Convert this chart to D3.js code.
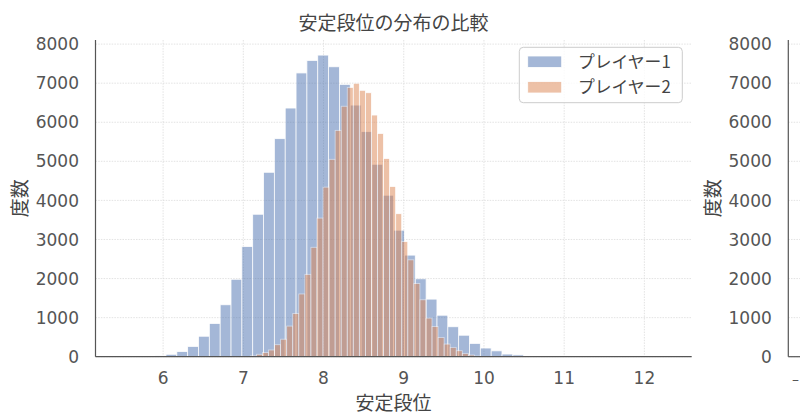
<!DOCTYPE html>
<html><head><meta charset="utf-8">
<script src="https://cdn.jsdelivr.net/npm/d3@7"></script>
<style>
body{margin:0;background:#fff;}
svg{display:block;font-family:"Noto Sans CJK JP","Noto Sans",sans-serif;}
.tick{font-family:"DejaVu Sans",sans-serif;}
</style></head>
<body>
<svg id="c" width="800" height="419"></svg>
<script>
// ---- data ----
const seriesNames = ["プレイヤー1", "プレイヤー2"];
const blueRange = [5.495, 12.252];
const blueCounts = [1, 2, 6, 20, 62, 132, 264, 524, 851, 1329,
  1982, 2820, 3646, 4720, 5580, 6364, 7262, 7583, 7719, 7420,
  6970, 6440, 5760, 4925, 4133, 3238, 2600, 1994, 1474, 1062,
  767, 550, 341, 222, 150, 68, 46, 17, 10, 5,
  3, 2, 1, 1, 1, 0, 0, 0, 0, 1];
const orangeRange = [6.861, 10.636];
const orangeCounts = [1, 2, 6, 22, 62, 105, 172, 307, 448, 784,
  1107, 1606, 2108, 2800, 3548, 4340, 5052, 5793, 6410, 6893,
  6998, 6818, 6756, 6185, 5715, 5074, 4358, 3660, 2948, 2479,
  1875, 1457, 989, 775, 494, 324, 239, 153, 85, 43,
  17, 8, 4, 2, 1, 1, 0, 0, 0, 1];
const xTicks = [6, 7, 8, 9, 10, 11, 12];
const yTicks = [0, 1000, 2000, 3000, 4000, 5000, 6000, 7000, 8000];
const titleText = "安定段位の分布の比較";
const xLabelText = "安定段位";
const yLabelText = "度数";

// ---- layout ----
const svg = d3.select("#c");
const L = 95.5, R = 691.7, T = 40, B = 356.7;
const colors = ["#4C72B0", "#DD8452"];
const span = blueRange[1] - blueRange[0];
const x = d3.scaleLinear().domain([blueRange[0] - 0.05 * span, blueRange[1] + 0.05 * span]).range([L, R]);
const yMax = d3.max(blueCounts.concat(orangeCounts)) * 1.05;
const y = d3.scaleLinear().domain([0, yMax]).range([B, T]);

function bins(range, counts) {
  const w = (range[1] - range[0]) / counts.length;
  return counts.map((c, i) => ({x0: range[0] + i * w, x1: range[0] + (i + 1) * w, c}));
}

// grid
const grid = svg.append("g").attr("stroke", "#dcdcdc").attr("stroke-width", 0.8).attr("stroke-dasharray", "1.5,1.2");
grid.selectAll(".gx").data(xTicks).join("line")
  .attr("x1", d => x(d)).attr("x2", d => x(d)).attr("y1", T).attr("y2", B);
grid.selectAll(".gy").data(yTicks).join("line")
  .attr("x1", L).attr("x2", R).attr("y1", d => y(d)).attr("y2", d => y(d));

// bars
[[blueRange, blueCounts], [orangeRange, orangeCounts]].forEach(([rg, cs], k) => {
  svg.append("g").selectAll("rect").data(bins(rg, cs)).join("rect")
    .attr("x", d => x(d.x0)).attr("width", d => x(d.x1) - x(d.x0))
    .attr("y", d => y(d.c)).attr("height", d => B - y(d.c))
    .attr("fill", colors[k]).attr("stroke", "#fff").attr("stroke-width", 0.8)
    .attr("opacity", 0.5);
});

// spines
svg.append("line").attr("x1", L).attr("x2", L).attr("y1", T).attr("y2", B).attr("stroke", "#555").attr("stroke-width", 1.2);
svg.append("line").attr("x1", L).attr("x2", R).attr("y1", B).attr("y2", B).attr("stroke", "#555").attr("stroke-width", 1.2);

// tick labels
const tickFont = 17, tickCol = "#555";
svg.append("g").selectAll("text").data(xTicks).join("text").attr("class", "tick")
  .attr("x", d => x(d)).attr("y", 384).attr("text-anchor", "middle")
  .attr("font-size", tickFont).attr("fill", tickCol).text(d => d);
svg.append("g").selectAll("text").data(yTicks).join("text").attr("class", "tick")
  .attr("x", L - 16.5).attr("y", d => y(d)).attr("dy", "0.36em").attr("text-anchor", "end")
  .attr("font-size", tickFont).attr("fill", tickCol).text(d => d);

// labels
svg.append("text").attr("x", (L + R) / 2).attr("y", 29.5).attr("text-anchor", "middle")
  .attr("font-size", 19).attr("fill", "#444").text(titleText);
svg.append("text").attr("x", (L + R) / 2).attr("y", 410).attr("text-anchor", "middle")
  .attr("font-size", 19).attr("fill", "#444").text(xLabelText);
svg.append("text").attr("transform", `translate(${L - 75},${(T + B) / 2}) rotate(-90)`)
  .attr("dy", "0.35em").attr("text-anchor", "middle")
  .attr("font-size", 19).attr("fill", "#444").text(yLabelText);

// legend
const lg = svg.append("g");
lg.append("rect").attr("x", 519.3).attr("y", 47.3).attr("width", 163).attr("height", 55.4)
  .attr("rx", 4).attr("fill", "#fff").attr("fill-opacity", 0.8).attr("stroke", "#ccc").attr("stroke-width", 1);
seriesNames.forEach((n, i) => {
  const yy = 61.7 + i * 25.6;
  lg.append("rect").attr("x", 527.7).attr("y", yy - 5.7).attr("width", 34).attr("height", 11.4)
    .attr("fill", colors[i]).attr("opacity", 0.5).attr("stroke", "#fff").attr("stroke-width", 0.8);
  lg.append("text").attr("x", 578).attr("y", yy).attr("dy", "0.35em")
    .attr("font-size", 16.8).attr("fill", "#444").text(n);
});

// second (clipped) panel at right edge
const L2 = 788.3;
const g2 = svg.append("g");
g2.selectAll(".g2").data(yTicks).join("line")
  .attr("x1", L2).attr("x2", 800).attr("y1", d => y(d)).attr("y2", d => y(d))
  .attr("stroke", "#dcdcdc").attr("stroke-width", 0.8).attr("stroke-dasharray", "1.5,1.2");
g2.append("line").attr("x1", L2).attr("x2", L2).attr("y1", T).attr("y2", B).attr("stroke", "#555").attr("stroke-width", 1.2);
g2.append("line").attr("x1", L2).attr("x2", 800).attr("y1", B).attr("y2", B).attr("stroke", "#555").attr("stroke-width", 1.2);
g2.selectAll("text.t").data(yTicks).join("text").attr("class", "tick")
  .attr("x", L2 - 16.5).attr("y", d => y(d)).attr("dy", "0.36em").attr("text-anchor", "end")
  .attr("font-size", tickFont).attr("fill", tickCol).text(d => d);
g2.append("text").attr("transform", `translate(${L2 - 75},${(T + B) / 2}) rotate(-90)`)
  .attr("dy", "0.35em").attr("text-anchor", "middle")
  .attr("font-size", 19).attr("fill", "#444").text(yLabelText);
g2.append("text").attr("class", "tick").attr("x", 792).attr("y", 384).attr("font-size", 14).attr("fill", tickCol).text("–");
</script>
</body></html>
